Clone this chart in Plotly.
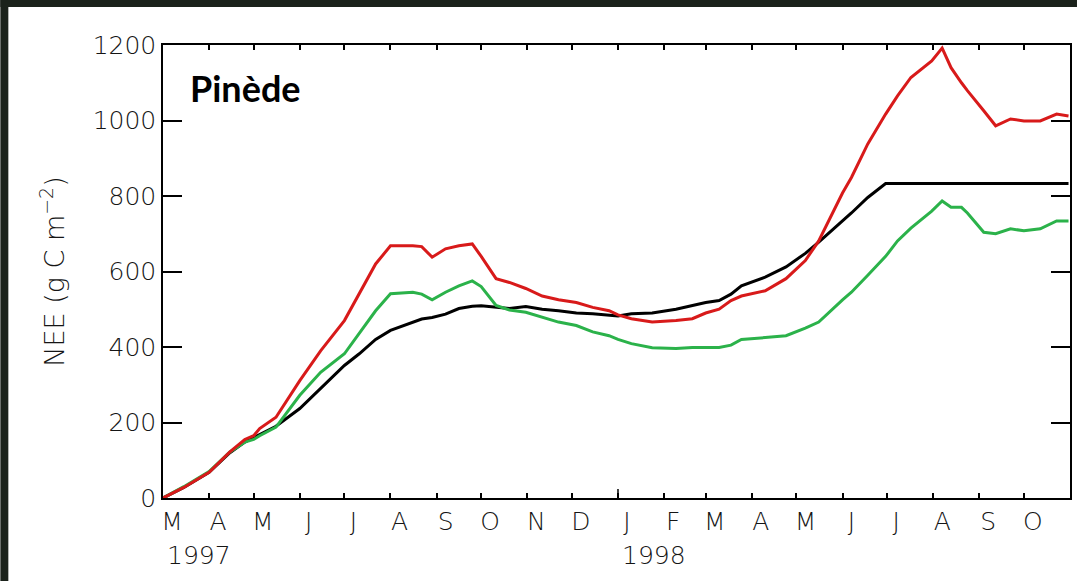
import plotly.graph_objects as go

# ---- data ----
dates = [
    "1997-03-01", "1997-03-15", "1997-04-01", "1997-04-15", "1997-04-25", "1997-05-01",
    "1997-05-05", "1997-05-16", "1997-06-01", "1997-06-15", "1997-07-01", "1997-07-11",
    "1997-07-22", "1997-08-01", "1997-08-16", "1997-08-22", "1997-08-29", "1997-09-07",
    "1997-09-16", "1997-09-25", "1997-10-01", "1997-10-11", "1997-10-20", "1997-10-31",
    "1997-11-11", "1997-11-22", "1997-12-04", "1997-12-15", "1997-12-26", "1998-01-01",
    "1998-01-10", "1998-01-24", "1998-02-09", "1998-02-20", "1998-03-01", "1998-03-10",
    "1998-03-18", "1998-03-25", "1998-04-10", "1998-04-24", "1998-05-07", "1998-05-16",
    "1998-06-01", "1998-06-07", "1998-06-18", "1998-06-30", "1998-07-08", "1998-07-17",
    "1998-07-31", "1998-08-07", "1998-08-13", "1998-08-20", "1998-08-24", "1998-09-04",
    "1998-09-12", "1998-09-22", "1998-10-01", "1998-10-12", "1998-10-23", "1998-10-31",
]
black_nee = [
    0, 28, 68, 120, 148, 160,
    170, 190, 237, 290, 351, 382,
    420, 444, 466, 474, 478, 487,
    502, 508, 509, 505, 502, 507,
    500, 496, 490, 488, 484, 482,
    488, 490, 500, 510, 518, 523,
    540, 562, 585, 612, 648, 678,
    733, 755, 796, 833, 833, 833,
    833, 833, 833, 833, 833, 833,
    833, 833, 833, 833, 833, 833,
]
red_nee = [
    0, 28, 68, 122, 155, 165,
    184, 214, 311, 390, 470, 541,
    620, 668, 668, 666, 638, 660,
    668, 673, 640, 581, 571, 555,
    535, 525, 518, 505, 496, 485,
    475, 466, 470, 475, 490, 500,
    523, 535, 549, 581, 629, 681,
    808, 849, 938, 1017, 1065, 1114,
    1158, 1192, 1140, 1100, 1079, 1026,
    986, 1004, 999, 999, 1017, 1012,
]
green_nee = [
    0, 30, 70, 122, 148, 155,
    165, 188, 272, 333, 382, 435,
    496, 541, 545, 540, 525, 545,
    562, 575, 560, 510, 498, 492,
    478, 466, 457, 440, 430, 420,
    409, 398, 396, 399, 399, 399,
    405, 420, 425, 430, 450, 466,
    525, 545, 590, 640, 681, 715,
    760, 787, 770, 770, 755, 704,
    700, 713, 708, 713, 734, 734,
]
month_ticks = [
    "1997-03-01", "1997-04-01", "1997-05-01", "1997-06-01", "1997-07-01", "1997-08-01",
    "1997-09-01", "1997-10-01", "1997-11-01", "1997-12-01", "1998-01-01", "1998-02-01",
    "1998-03-01", "1998-04-01", "1998-05-01", "1998-06-01", "1998-07-01", "1998-08-01",
    "1998-09-01", "1998-10-01",
]
month_labels = ["M", "A", "M", "J", "J", "A", "S", "O", "N", "D",
                "J", "F", "M", "A", "M", "J", "J", "A", "S", "O"]
year_positions = ["1997-03-01", "1998-01-01"]
year_labels = ["1997", "1998"]
y_ticks = [0, 200, 400, 600, 800, 1000, 1200]

FONT = "DejaVu Sans"
TXT = "#151515"

fig = go.Figure()
fig.add_trace(go.Scatter(x=dates, y=black_nee, mode="lines",
                         line=dict(color="#000000", width=3), showlegend=False))
fig.add_trace(go.Scatter(x=dates, y=green_nee, mode="lines",
                         line=dict(color="#2bb24a", width=3), showlegend=False))
fig.add_trace(go.Scatter(x=dates, y=red_nee, mode="lines",
                         line=dict(color="#d81a1a", width=3), showlegend=False))

fig.update_layout(
    width=1079, height=581,
    margin=dict(l=163, r=7, t=45, b=83),
    paper_bgcolor="white", plot_bgcolor="white",
    xaxis=dict(
        type="date", range=["1997-03-01", "1998-11-01"],
        tickmode="array", tickvals=month_ticks, ticktext=month_labels,
        ticks="inside", ticklen=5, tickwidth=1.5, tickcolor="black",
        showline=True, linecolor="black", linewidth=1.5, mirror="ticks",
        showgrid=False, zeroline=False,
        tickfont=dict(family=FONT, size=25, color=TXT, weight=300),
        ticklabelshift=9,
    ),
    yaxis=dict(
        range=[0, 1200], tickmode="array", tickvals=y_ticks,
        ticks="inside", ticklen=19, tickwidth=1.5, tickcolor="black",
        showline=True, linecolor="black", linewidth=1.5, mirror="ticks",
        showgrid=False, zeroline=False,
        tickfont=dict(family=FONT, size=25, color=TXT, weight=300),
        title=dict(text="NEE (g C m<sup>\u22122</sup>)", standoff=20,
                   font=dict(family=FONT, size=27, color=TXT, weight=300)),
    ),
)

for xpos, lab in zip(year_positions, year_labels):
    fig.add_annotation(x=xpos, y=-0.126, xref="x", yref="paper", text=lab,
                       showarrow=False, xanchor="left", yanchor="middle", xshift=2,
                       font=dict(family=FONT, size=25, color=TXT, weight=300))

fig.add_annotation(x=0.028, y=0.905, xref="paper", yref="paper", text="<b>Pinède</b>",
                   showarrow=False, xanchor="left", yanchor="middle",
                   font=dict(family="Lato", size=36, color="black"))

# longer year-boundary tick at January 1998
fig.add_shape(type="line", xref="x", yref="paper", x0="1998-01-01", x1="1998-01-01",
              y0=0, y1=9 / 453, line=dict(color="black", width=1.5))

# dark frame strips of the original slide (top and left edges)
fig.add_shape(type="rect", xref="paper", yref="paper",
              x0=-163 / 909, x1=-155 / 909, y0=-83 / 453, y1=1 + 45 / 453,
              fillcolor="#1b221b", line=dict(width=0), layer="above")
fig.add_shape(type="rect", xref="paper", yref="paper",
              x0=-163 / 909, x1=1 + 7 / 909, y0=1 + 38 / 453, y1=1 + 45 / 453,
              fillcolor="#1b221b", line=dict(width=0), layer="above")

fig.write_html("out.html", config={"displayModeBar": False},
               post_script="document.body.style.margin='0';")
